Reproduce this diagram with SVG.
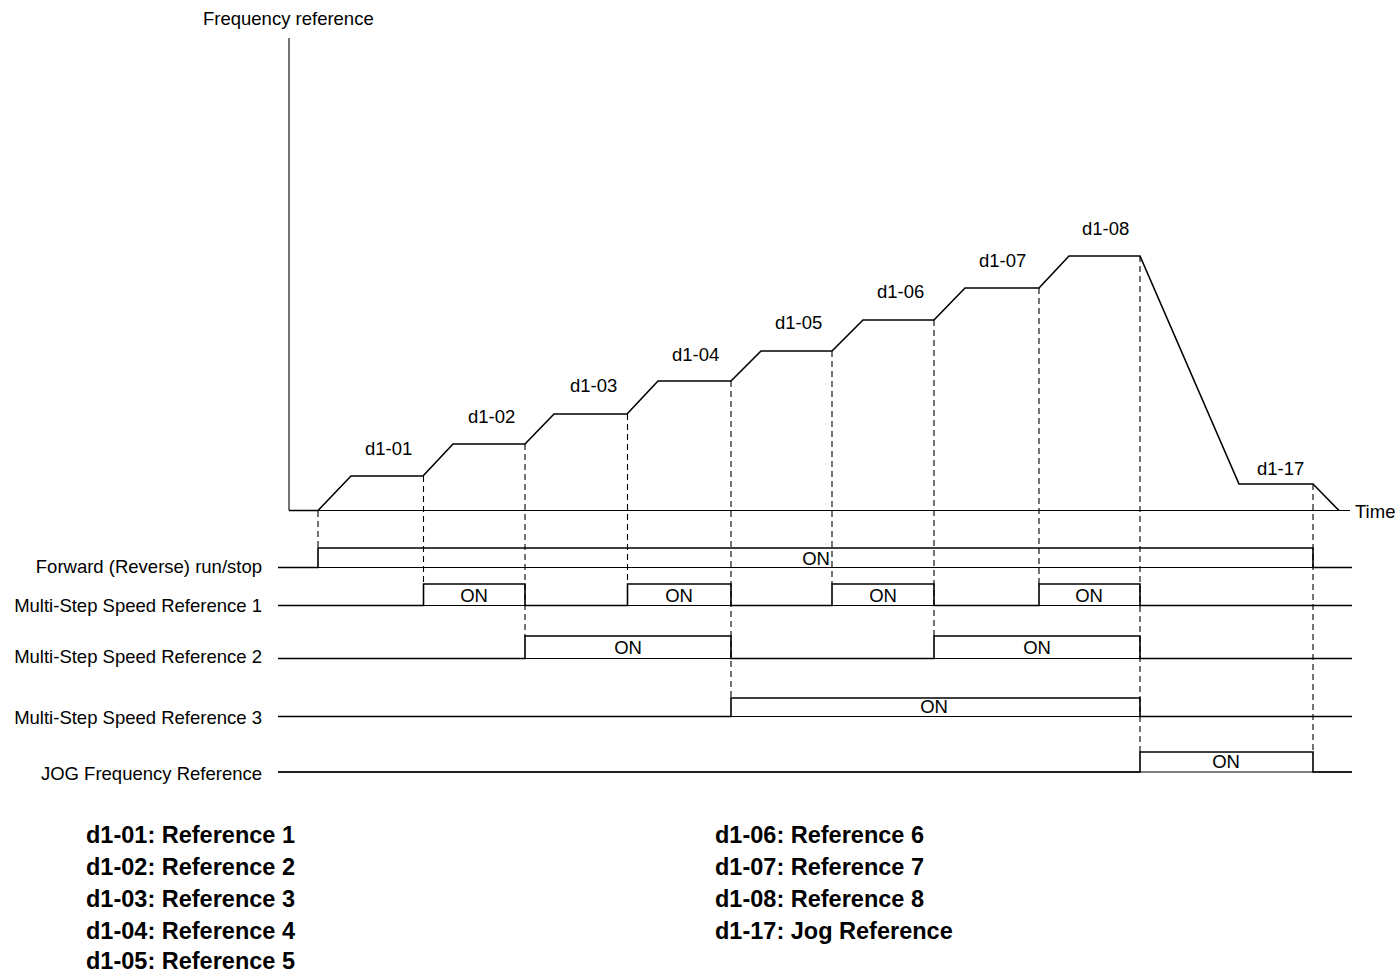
<svg xmlns="http://www.w3.org/2000/svg" width="1397" height="973" viewBox="0 0 1397 973">
<style>
text{font-family:"Liberation Sans",Arial,sans-serif;fill:#000}
.t{font-size:18.5px}
.r{text-anchor:end}
.m{text-anchor:middle}
.b{font-size:23.5px;font-weight:bold}
.axis{stroke:#000;stroke-width:1.1;fill:none}
.curve{stroke:#000;stroke-width:1.6;fill:none;stroke-linejoin:miter}
.base{stroke:#000;stroke-width:1.1;fill:none}
.pulse{stroke:#000;stroke-width:1.6;fill:none}
.dash{stroke:#000;stroke-width:1.1;stroke-dasharray:6 4;fill:none}
</style>
<rect width="1397" height="973" fill="#fff"/>
<g id="axes">
<line class="axis" x1="289" y1="38" x2="289" y2="510.5"/>
<line class="axis" x1="289" y1="510.5" x2="1350" y2="510.5"/>
<text class="t" x="203" y="25">Frequency reference</text>
<text class="t" x="1355" y="518">Time</text>
</g>
<g id="connectors">
<path class="curve" d="M289,510.5 L318,510.5 L351,476 L423,476 L453,444 L525,444 L554,414 L627,414 L658,381 L731,381 L761,351 L832,351 L863,320 L934,320 L965,288 L1039,288 L1069,256 L1140,256 L1239,484 L1313,484 L1339,510.5"/>
<line class="dash" x1="318" y1="511" x2="318" y2="548"/>
<line class="dash" x1="423.5" y1="476" x2="423.5" y2="584"/>
<line class="dash" x1="525" y1="444" x2="525" y2="636"/>
<line class="dash" x1="627.5" y1="414" x2="627.5" y2="584"/>
<line class="dash" x1="731" y1="381" x2="731" y2="698"/>
<line class="dash" x1="832" y1="351" x2="832" y2="584"/>
<line class="dash" x1="934" y1="320" x2="934" y2="636"/>
<line class="dash" x1="1039" y1="288" x2="1039" y2="584"/>
<line class="dash" x1="1140" y1="256" x2="1140" y2="752"/>
<line class="dash" x1="1313" y1="484" x2="1313" y2="752"/>
</g>
<g id="step-labels">
<text class="t" x="365" y="455">d1-01</text>
<text class="t" x="468" y="423">d1-02</text>
<text class="t" x="570" y="392">d1-03</text>
<text class="t" x="672" y="361">d1-04</text>
<text class="t" x="775" y="329">d1-05</text>
<text class="t" x="877" y="298">d1-06</text>
<text class="t" x="979" y="267">d1-07</text>
<text class="t" x="1082" y="235">d1-08</text>
<text class="t" x="1257" y="475">d1-17</text>
</g>
<g id="sig-run">
<text class="t r" x="262" y="573">Forward (Reverse) run/stop</text>
<line class="base" x1="278" y1="567.5" x2="1352" y2="567.5"/>
<path class="pulse" d="M278,567.5 L318,567.5 L318,548 L1313,548 L1313,567.5 L1352,567.5"/>
<text class="t m" x="816" y="565">ON</text>
</g>
<g id="sig-ms1">
<text class="t r" x="262" y="612">Multi-Step Speed Reference 1</text>
<line class="base" x1="278" y1="605.5" x2="1352" y2="605.5"/>
<path class="pulse" d="M278,605.5 L423.5,605.5 L423.5,584 L525,584 L525,605.5 L627.5,605.5 L627.5,584 L731,584 L731,605.5 L832,605.5 L832,584 L934,584 L934,605.5 L1039,605.5 L1039,584 L1140,584 L1140,605.5 L1352,605.5"/>
<text class="t m" x="474" y="601.5">ON</text>
<text class="t m" x="679" y="601.5">ON</text>
<text class="t m" x="883" y="601.5">ON</text>
<text class="t m" x="1089" y="601.5">ON</text>
</g>
<g id="sig-ms2">
<text class="t r" x="262" y="663">Multi-Step Speed Reference 2</text>
<line class="base" x1="278" y1="658.5" x2="1352" y2="658.5"/>
<path class="pulse" d="M278,658.5 L525,658.5 L525,636 L731,636 L731,658.5 L934,658.5 L934,636 L1140,636 L1140,658.5 L1352,658.5"/>
<text class="t m" x="628" y="654">ON</text>
<text class="t m" x="1037" y="654">ON</text>
</g>
<g id="sig-ms3">
<text class="t r" x="262" y="724">Multi-Step Speed Reference 3</text>
<line class="base" x1="278" y1="716.5" x2="1352" y2="716.5"/>
<path class="pulse" d="M278,716.5 L731,716.5 L731,698 L1140,698 L1140,716.5 L1352,716.5"/>
<text class="t m" x="934" y="713">ON</text>
</g>
<g id="sig-jog">
<text class="t r" x="262" y="780">JOG Frequency Reference</text>
<line class="base" x1="278" y1="772" x2="1352" y2="772"/>
<path class="pulse" d="M278,772 L1140,772 L1140,752 L1313,752 L1313,772 L1352,772"/>
<text class="t m" x="1226" y="768">ON</text>
</g>
<g id="legend">
<text class="b" x="86" y="843">d1-01: Reference 1</text>
<text class="b" x="86" y="875">d1-02: Reference 2</text>
<text class="b" x="86" y="907">d1-03: Reference 3</text>
<text class="b" x="86" y="939">d1-04: Reference 4</text>
<text class="b" x="86" y="969">d1-05: Reference 5</text>
<text class="b" x="715" y="843">d1-06: Reference 6</text>
<text class="b" x="715" y="875">d1-07: Reference 7</text>
<text class="b" x="715" y="907">d1-08: Reference 8</text>
<text class="b" x="715" y="939">d1-17: Jog Reference</text>
</g>
</svg>
